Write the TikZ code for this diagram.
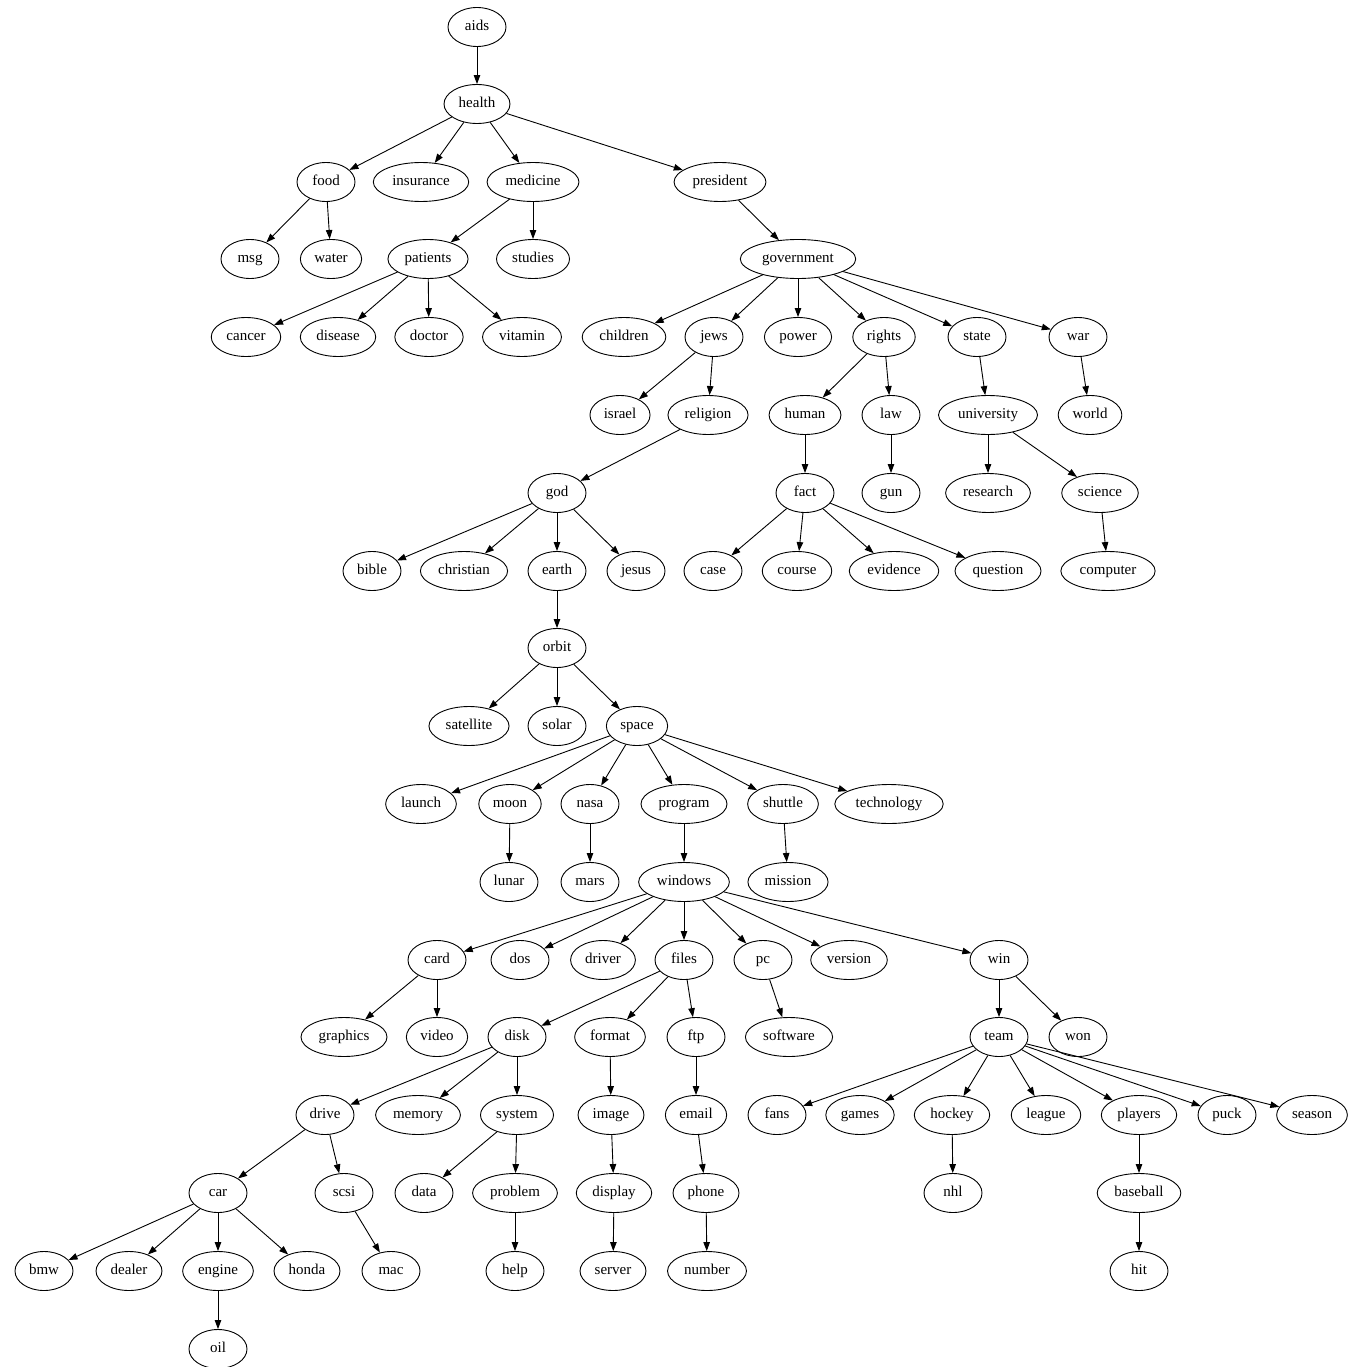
\documentclass[tikz,border=0pt]{standalone}
\usepackage{fontspec}
\setmainfont{Liberation Serif}
\usetikzlibrary{shapes.geometric, arrows.meta}

\begin{document}
\begin{tikzpicture}[
      x=1pt, y=-1pt,
      >={Triangle[length=9pt, width=6.5pt]},
      kw/.style={ellipse, draw, line width=0.9pt, minimum width=58pt, minimum height=39pt,
        inner xsep=5pt, inner ysep=0pt, text height=10.5pt, text depth=3pt,
        font=\fontsize{15}{18}\selectfont},
      every path/.append style={line width=0.9pt},
    ]
      \useasboundingbox (0,0) rectangle (1349,1367);
      % rank 1-3
      \node[kw] (aids) at (477,27) {aids};
      \node[kw] (health) at (477,104) {health};
      \node[kw] (food) at (326,182) {food};
      \node[kw] (insurance) at (421,182) {insurance};
      \node[kw] (medicine) at (533,182) {medicine};
      \node[kw] (president) at (720,182) {president};
      % rank 4
      \node[kw] (msg) at (250,259) {msg};
      \node[kw] (water) at (331,259) {water};
      \node[kw] (patients) at (428,259) {patients};
      \node[kw] (studies) at (533,259) {studies};
      \node[kw] (government) at (798,259) {government};
      % rank 5
      \node[kw] (cancer) at (246,337) {cancer};
      \node[kw] (disease) at (338,337) {disease};
      \node[kw] (doctor) at (429,337) {doctor};
      \node[kw] (vitamin) at (522,337) {vitamin};
      \node[kw] (children) at (624,337) {children};
      \node[kw] (jews) at (714,337) {jews};
      \node[kw] (power) at (798,337) {power};
      \node[kw] (rights) at (884,337) {rights};
      \node[kw] (state) at (977,337) {state};
      \node[kw] (war) at (1078,337) {war};
      % rank 6
      \node[kw] (israel) at (620,415) {israel};
      \node[kw] (religion) at (708,415) {religion};
      \node[kw] (human) at (805,415) {human};
      \node[kw] (law) at (891,415) {law};
      \node[kw] (university) at (988,415) {university};
      \node[kw] (world) at (1090,415) {world};
      % rank 7
      \node[kw] (god) at (557,493) {god};
      \node[kw] (fact) at (805,493) {fact};
      \node[kw] (gun) at (891,493) {gun};
      \node[kw] (research) at (988,493) {research};
      \node[kw] (science) at (1100,493) {science};
      % rank 8
      \node[kw] (bible) at (372,571) {bible};
      \node[kw] (christian) at (464,571) {christian};
      \node[kw] (earth) at (557,571) {earth};
      \node[kw] (jesus) at (636,571) {jesus};
      \node[kw] (case) at (713,571) {case};
      \node[kw] (course) at (797,571) {course};
      \node[kw] (evidence) at (894,571) {evidence};
      \node[kw] (question) at (998,571) {question};
      \node[kw] (computer) at (1108,571) {computer};
      % rank 9-10
      \node[kw] (orbit) at (557,648) {orbit};
      \node[kw] (satellite) at (469,726) {satellite};
      \node[kw] (solar) at (557,726) {solar};
      \node[kw] (space) at (637,726) {space};
      % rank 11
      \node[kw] (launch) at (421,804) {launch};
      \node[kw] (moon) at (510,804) {moon};
      \node[kw] (nasa) at (590,804) {nasa};
      \node[kw] (program) at (684,804) {program};
      \node[kw] (shuttle) at (783,804) {shuttle};
      \node[kw] (technology) at (889,804) {technology};
      % rank 12
      \node[kw] (lunar) at (509,882) {lunar};
      \node[kw] (mars) at (590,882) {mars};
      \node[kw] (windows) at (684,882) {windows};
      \node[kw] (mission) at (788,882) {mission};
      % rank 13
      \node[kw] (card) at (437,960) {card};
      \node[kw] (dos) at (520,960) {dos};
      \node[kw] (driver) at (603,960) {driver};
      \node[kw] (files) at (684,960) {files};
      \node[kw] (pc) at (763,960) {pc};
      \node[kw] (version) at (849,960) {version};
      \node[kw] (win) at (999,960) {win};
      % rank 14
      \node[kw] (graphics) at (344,1037) {graphics};
      \node[kw] (video) at (437,1037) {video};
      \node[kw] (disk) at (517,1037) {disk};
      \node[kw] (format) at (610,1037) {format};
      \node[kw] (ftp) at (696,1037) {ftp};
      \node[kw] (software) at (789,1037) {software};
      \node[kw] (team) at (999,1037) {team};
      \node[kw] (won) at (1078,1037) {won};
      % rank 15
      \node[kw] (drive) at (325,1115) {drive};
      \node[kw] (memory) at (418,1115) {memory};
      \node[kw] (system) at (517,1115) {system};
      \node[kw] (image) at (611,1115) {image};
      \node[kw] (email) at (696,1115) {email};
      \node[kw] (fans) at (777,1115) {fans};
      \node[kw] (games) at (860,1115) {games};
      \node[kw] (hockey) at (952,1115) {hockey};
      \node[kw] (league) at (1046,1115) {league};
      \node[kw] (players) at (1139,1115) {players};
      \node[kw] (puck) at (1227,1115) {puck};
      \node[kw] (season) at (1312,1115) {season};
      % rank 16
      \node[kw] (car) at (218,1193) {car};
      \node[kw] (scsi) at (344,1193) {scsi};
      \node[kw] (data) at (424,1193) {data};
      \node[kw] (problem) at (515,1193) {problem};
      \node[kw] (display) at (614,1193) {display};
      \node[kw] (phone) at (706,1193) {phone};
      \node[kw] (nhl) at (953,1193) {nhl};
      \node[kw] (baseball) at (1139,1193) {baseball};
      % rank 17-18
      \node[kw] (bmw) at (44,1271) {bmw};
      \node[kw] (dealer) at (129,1271) {dealer};
      \node[kw] (engine) at (218,1271) {engine};
      \node[kw] (honda) at (307,1271) {honda};
      \node[kw] (mac) at (391,1271) {mac};
      \node[kw] (help) at (515,1271) {help};
      \node[kw] (server) at (613,1271) {server};
      \node[kw] (number) at (707,1271) {number};
      \node[kw] (hit) at (1139,1271) {hit};
      \node[kw] (oil) at (218,1349) {oil};

      % edges
      \draw[->] (aids)--(health);
      \draw[->] (health)--(food); \draw[->] (health)--(insurance); \draw[->] (health)--(medicine); \draw[->] (health)--(president);
      \draw[->] (food)--(msg); \draw[->] (food)--(water);
      \draw[->] (medicine)--(patients); \draw[->] (medicine)--(studies);
      \draw[->] (president)--(government);
      \draw[->] (patients)--(cancer); \draw[->] (patients)--(disease); \draw[->] (patients)--(doctor); \draw[->] (patients)--(vitamin);
      \draw[->] (government)--(children); \draw[->] (government)--(jews); \draw[->] (government)--(power);
      \draw[->] (government)--(rights); \draw[->] (government)--(state); \draw[->] (government)--(war);
      \draw[->] (jews)--(israel); \draw[->] (jews)--(religion);
      \draw[->] (rights)--(human); \draw[->] (rights)--(law);
      \draw[->] (state)--(university); \draw[->] (war)--(world);
      \draw[->] (religion)--(god); \draw[->] (human)--(fact); \draw[->] (law)--(gun);
      \draw[->] (university)--(research); \draw[->] (university)--(science);
      \draw[->] (science)--(computer);
      \draw[->] (god)--(bible); \draw[->] (god)--(christian); \draw[->] (god)--(earth); \draw[->] (god)--(jesus);
      \draw[->] (fact)--(case); \draw[->] (fact)--(course); \draw[->] (fact)--(evidence); \draw[->] (fact)--(question);
      \draw[->] (earth)--(orbit);
      \draw[->] (orbit)--(satellite); \draw[->] (orbit)--(solar); \draw[->] (orbit)--(space);
      \draw[->] (space)--(launch); \draw[->] (space)--(moon); \draw[->] (space)--(nasa);
      \draw[->] (space)--(program); \draw[->] (space)--(shuttle); \draw[->] (space)--(technology);
      \draw[->] (moon)--(lunar); \draw[->] (nasa)--(mars); \draw[->] (program)--(windows); \draw[->] (shuttle)--(mission);
      \draw[->] (windows)--(card); \draw[->] (windows)--(dos); \draw[->] (windows)--(driver); \draw[->] (windows)--(files);
      \draw[->] (windows)--(pc); \draw[->] (windows)--(version); \draw[->] (windows)--(win);
      \draw[->] (card)--(graphics); \draw[->] (card)--(video);
      \draw[->] (files)--(disk); \draw[->] (files)--(format); \draw[->] (files)--(ftp);
      \draw[->] (pc)--(software);
      \draw[->] (win)--(team); \draw[->] (win)--(won);
      \draw[->] (disk)--(drive); \draw[->] (disk)--(memory); \draw[->] (disk)--(system);
      \draw[->] (format)--(image); \draw[->] (ftp)--(email);
      \draw[->] (team)--(fans); \draw[->] (team)--(games); \draw[->] (team)--(hockey); \draw[->] (team)--(league);
      \draw[->] (team)--(players); \draw[->] (team)--(puck); \draw[->] (team)--(season);
      \draw[->] (drive)--(car); \draw[->] (drive)--(scsi);
      \draw[->] (system)--(data); \draw[->] (system)--(problem);
      \draw[->] (image)--(display); \draw[->] (email)--(phone);
      \draw[->] (hockey)--(nhl); \draw[->] (players)--(baseball);
      \draw[->] (car)--(bmw); \draw[->] (car)--(dealer); \draw[->] (car)--(engine); \draw[->] (car)--(honda);
      \draw[->] (scsi)--(mac); \draw[->] (problem)--(help); \draw[->] (display)--(server); \draw[->] (phone)--(number);
      \draw[->] (baseball)--(hit); \draw[->] (engine)--(oil);
    \end{tikzpicture}
\end{document}
